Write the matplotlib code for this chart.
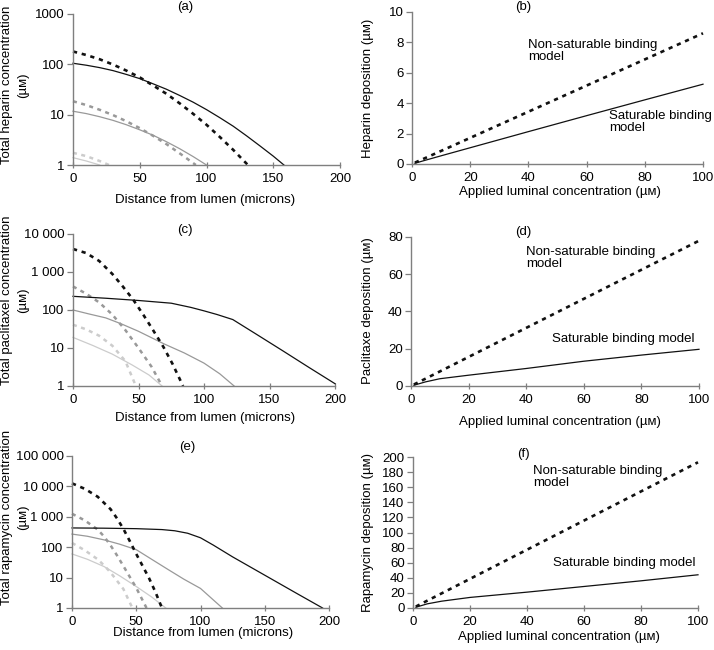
import matplotlib
matplotlib.use("Agg")
import matplotlib.pyplot as plt
from matplotlib.ticker import FixedLocator, NullLocator

plt.rcParams['font.family'] = ['Liberation Sans', 'DejaVu Sans']
plt.rcParams['font.size'] = 9.5

# ---------------- data ----------------
# Panel (a) heparin profiles (b=black, g=grey, l=light; d=dashed, s=solid)
a_bd_x = [0, 10, 20, 30, 40, 50, 60, 70, 80, 90, 100, 110, 120, 131]
a_bd_y = [180, 153, 126, 99, 75, 55, 38, 26, 16.7, 10.4, 6.3, 3.6, 2.0, 1]
a_bs_x = [0, 10, 20, 30, 40, 50, 60, 70, 80, 90, 100, 110, 120, 130, 140, 150, 158]
a_bs_y = [105, 96, 86, 75, 63, 52, 41, 32, 24, 17.7, 12.6, 8.7, 5.9, 3.8, 2.4, 1.5, 1]
a_gd_x = [0, 10, 20, 30, 40, 50, 60, 70, 80, 92]
a_gd_y = [18.5, 15.5, 12.5, 9.8, 7.4, 5.4, 3.8, 2.6, 1.7, 1]
a_gs_x = [0, 10, 20, 30, 40, 50, 60, 70, 80, 90, 100]
a_gs_y = [11.7, 10.5, 9.1, 7.7, 6.3, 5.0, 3.9, 2.9, 2.1, 1.47, 1]
a_ld_x = [0, 10, 20, 27]
a_ld_y = [1.75, 1.5, 1.2, 1]
a_ls_x = [0, 10, 20]
a_ls_y = [1.4, 1.2, 1]

# Panel (c) paclitaxel profiles
c_bd_x = [0, 10, 20, 30, 38, 46, 54, 61, 69, 76, 84]
c_bd_y = [4030, 3160, 1950, 890, 417, 186, 72, 30, 10.7, 3.8, 1]
c_bs_x = [0, 25, 50, 75, 90, 100, 110, 122, 140, 160, 180, 200]
c_bs_y = [229, 204, 178, 151, 117, 95, 76, 56, 23, 8.5, 3.1, 1.15]
c_gd_x = [0, 10, 20, 30, 40, 50, 60, 68]
c_gd_y = [417, 269, 158, 76, 29.5, 10, 3.2, 1]
c_gs_x = [0, 12, 25, 37, 50, 60, 70, 85, 100, 112, 123]
c_gs_y = [100, 79, 62, 43, 27.5, 18.6, 12.6, 7.4, 4.0, 2.1, 1]
c_ld_x = [0, 10, 20, 30, 40, 48]
c_ld_y = [41, 31, 21, 11.5, 4.5, 1]
c_ls_x = [0, 15, 30, 45, 58, 68]
c_ls_y = [19, 11.7, 6.9, 3.6, 1.95, 1]

# Panel (e) rapamycin profiles
e_bd_x = [0, 10, 20, 30, 35, 40, 45, 50, 55, 60, 65, 70]
e_bd_y = [12600, 8300, 4570, 1780, 890, 400, 158, 60, 24, 9.5, 3.3, 1]
e_bs_x = [0, 25, 50, 70, 80, 90, 100, 110, 125, 150, 175, 195]
e_bs_y = [430, 422, 407, 380, 347, 288, 204, 117, 48, 12, 3.0, 1]
e_gd_x = [0, 10, 20, 25, 30, 35, 40, 45, 50, 58]
e_gd_y = [1260, 760, 380, 224, 115, 54, 24, 10.5, 4.6, 1]
e_gs_x = [0, 12, 25, 37, 50, 62, 75, 87, 100, 117]
e_gs_y = [270, 229, 174, 126, 83, 40, 18.2, 8.9, 4.4, 1]
e_ld_x = [0, 10, 20, 25, 30, 35, 40, 47]
e_ld_y = [138, 79, 40, 25, 14.8, 7.9, 4.2, 1]
e_ls_x = [0, 12, 25, 37, 50, 62, 73]
e_ls_y = [60, 40, 23, 11.5, 5.1, 2.3, 1]

# Right panels: deposition vs applied luminal concentration
conc = [1, 5, 10, 20, 40, 60, 80, 100]
b_nonsat = [0.09, 0.43, 0.86, 1.72, 3.44, 5.16, 6.88, 8.6]
b_sat = [0.05, 0.27, 0.54, 1.07, 2.13, 3.18, 4.22, 5.25]
d_nonsat = [0.8, 3.9, 7.8, 15.6, 31.2, 46.8, 62.4, 78]
d_sat = [0.4, 2.2, 3.9, 5.8, 9.4, 13.3, 16.6, 19.7]
f_nonsat = [1.9, 9.7, 19.3, 38.6, 77.2, 115.8, 154.4, 193]
f_sat = [1, 5.5, 9.0, 14, 21, 28.5, 36, 44]

a_yticks = [1, 10, 100, 1000]
a_ylabels = ['1', '10', '100', '1000']
c_yticks = [1, 10, 100, 1000, 10000]
c_ylabels = ['1', '10', '100', '1 000', '10 000']
e_yticks = [1, 10, 100, 1000, 10000, 100000]
e_ylabels = ['1', '10', '100', '1 000', '10 000', '100 000']
dist_ticks = [0, 50, 100, 150, 200]
conc_ticks = [0, 20, 40, 60, 80, 100]

UM = '(\u00b5\u1d0d)'

# ---------------- figure ----------------
W, H = 714, 650
fig = plt.figure(figsize=(W / 100, H / 100), dpi=100)


def add_ax(l, t, r, b):
    return fig.add_axes([l / W, 1 - b / H, (r - l) / W, (b - t) / H])


SPINE = '#7f7f7f'
BLACK = '#111111'
GRAYD = '#999999'
GRAYS = '#999999'
LIGHTD = '#cccccc'
LIGHTS = '#cccccc'
DASH = (0, (1.6, 1.8))


def style(ax):
    for s in ['top', 'right']:
        ax.spines[s].set_visible(False)
    for s in ['left', 'bottom']:
        ax.spines[s].set_color(SPINE)
        ax.spines[s].set_linewidth(1.0)
    ax.tick_params(axis='y', direction='out', length=4, color=SPINE, width=0.9, pad=2, labelsize=9.5)
    ax.tick_params(axis='x', direction='inout', length=5, color=SPINE, width=0.9, pad=3, labelsize=9.5)
    ax.patch.set_alpha(0)


def profile_panel(ax, curves, yticks, ylabels, ymax):
    for x, y, col, ls, lw in curves:
        ax.plot(x, y, color=col, linestyle=ls, linewidth=lw, clip_on=False)
    ax.set_yscale('log')
    ax.set_ylim(1, ymax)
    ax.set_xlim(0, 200)
    ax.yaxis.set_major_locator(FixedLocator(yticks))
    ax.yaxis.set_minor_locator(NullLocator())
    ax.set_yticklabels(ylabels)
    ax.set_xticks(dist_ticks)
    style(ax)


def curves_for(bdx, bdy, bsx, bsy, gdx, gdy, gsx, gsy, ldx, ldy, lsx, lsy):
    return [
        (lsx, lsy, LIGHTS, '-', 0.9),
        (ldx, ldy, LIGHTD, DASH, 1.8),
        (gsx, gsy, GRAYS, '-', 0.9),
        (gdx, gdy, GRAYD, DASH, 1.8),
        (bsx, bsy, BLACK, '-', 0.9),
        (bdx, bdy, BLACK, DASH, 1.9),
    ]


ax_a = add_ax(73, 14, 340, 165)
profile_panel(ax_a, curves_for(a_bd_x, a_bd_y, a_bs_x, a_bs_y, a_gd_x, a_gd_y,
                               a_gs_x, a_gs_y, a_ld_x, a_ld_y, a_ls_x, a_ls_y),
              a_yticks, a_ylabels, 1000)

ax_c = add_ax(73, 234, 335, 386)
profile_panel(ax_c, curves_for(c_bd_x, c_bd_y, c_bs_x, c_bs_y, c_gd_x, c_gd_y,
                               c_gs_x, c_gs_y, c_ld_x, c_ld_y, c_ls_x, c_ls_y),
              c_yticks, c_ylabels, 10000)

ax_e = add_ax(72, 456, 329, 608)
profile_panel(ax_e, curves_for(e_bd_x, e_bd_y, e_bs_x, e_bs_y, e_gd_x, e_gd_y,
                               e_gs_x, e_gs_y, e_ld_x, e_ld_y, e_ls_x, e_ls_y),
              e_yticks, e_ylabels, 100000)


def dep_panel(ax, nonsat, sat, ymax, ystep):
    ax.plot(conc, sat, color=BLACK, linewidth=0.9, clip_on=False)
    ax.plot(conc, nonsat, color=BLACK, linestyle=DASH, linewidth=1.9, clip_on=False)
    ax.set_xlim(0, 100)
    ax.set_ylim(0, ymax)
    ax.set_xticks(conc_ticks)
    ax.set_yticks(list(range(0, ymax + 1, ystep)))
    style(ax)


ax_b = add_ax(412, 12, 703, 164)
dep_panel(ax_b, b_nonsat, b_sat, 10, 2)
ax_b.text(40, 8.25, 'Non-saturable binding\nmodel', ha='left', va='top', fontsize=9.5, linespacing=1.0)
ax_b.text(67.8, 3.55, 'Saturable binding\nmodel', ha='left', va='top', fontsize=9.5, linespacing=1.0)

ax_d = add_ax(411, 237, 699, 386)
dep_panel(ax_d, d_nonsat, d_sat, 80, 20)
ax_d.text(40, 75, 'Non-saturable binding\nmodel', ha='left', va='top', fontsize=9.5, linespacing=1.0)
ax_d.text(49, 28.3, 'Saturable binding model', ha='left', va='top', fontsize=9.5)

ax_f = add_ax(413, 457, 698, 608)
dep_panel(ax_f, f_nonsat, f_sat, 200, 20)
ax_f.text(42, 189, 'Non-saturable binding\nmodel', ha='left', va='top', fontsize=9.5, linespacing=1.0)
ax_f.text(49, 67.5, 'Saturable binding model', ha='left', va='top', fontsize=9.5)


def ftext(x, y, s, **kw):
    fig.text(x / W, 1 - y / H, s, **kw)


# panel letters
for lab, x, y in [('(a)', 185, 7), ('(b)', 523, 7), ('(c)', 185, 230),
                  ('(d)', 523, 232), ('(e)', 187, 447), ('(f)', 523, 454)]:
    ftext(x, y, lab, ha='center', va='center', fontsize=9.5)

# y labels (two separate lines on the left panels)
for line1, yc in [('Total heparin concentration', 85),
                  ('Total paclitaxel concentration', 300),
                  ('Total rapamycin concentration', 517)]:
    ftext(7, yc, line1, rotation=90, ha='center', va='center', fontsize=9.5)
    ftext(23, yc, UM, rotation=90, ha='center', va='center', fontsize=9.5)

ftext(368, 88, 'Heparin deposition ' + UM, rotation=90, ha='center', va='center', fontsize=9.5)
ftext(368, 311, 'Paclitaxe deposition ' + UM, rotation=90, ha='center', va='center', fontsize=9.5)
ftext(368, 532, 'Rapamycin deposition ' + UM, rotation=90, ha='center', va='center', fontsize=9.5)

# x labels
ftext(205, 200, 'Distance from lumen (microns)', ha='center', va='center', fontsize=9.5)
ftext(205, 418, 'Distance from lumen (microns)', ha='center', va='center', fontsize=9.5)
ftext(203, 633, 'Distance from lumen (microns)', ha='center', va='center', fontsize=9.5)
ftext(560, 192, 'Applied luminal concentration ' + UM, ha='center', va='center', fontsize=9.5)
ftext(560, 422, 'Applied luminal concentration ' + UM, ha='center', va='center', fontsize=9.5)
ftext(559, 637, 'Applied luminal concentration ' + UM, ha='center', va='center', fontsize=9.5)

fig.savefig('out.png', dpi=100)
